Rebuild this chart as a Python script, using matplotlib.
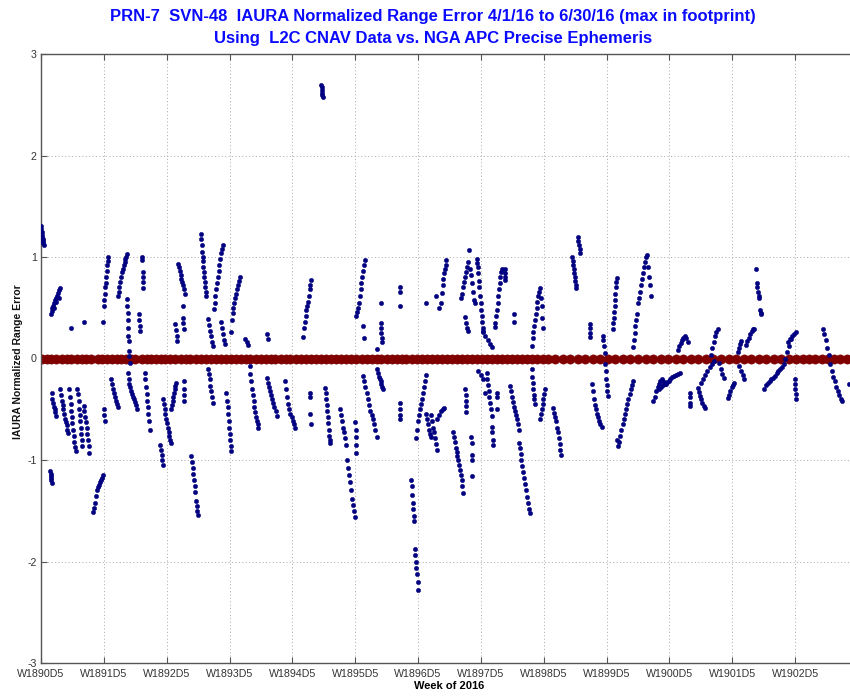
import numpy as np
import matplotlib
matplotlib.use("Agg")
import matplotlib.pyplot as plt

# ---- data -------------------------------------------------------------
# x axis: weeks elapsed since W1890D5
tick_labels = ["W1890D5", "W1891D5", "W1892D5", "W1893D5", "W1894D5",
               "W1895D5", "W1896D5", "W1897D5", "W1898D5", "W1899D5",
               "W1900D5", "W1901D5", "W1902D5"]
y_ticks = [-3, -2, -1, 0, 1, 2, 3]

# each satellite pass: start week, end week, normalized range error samples
pass_start = [0.00, 0.15, 0.16, 0.17, 0.31, 0.45, 0.58, 0.68, 0.48, 0.69,
              0.83, 0.99, 1.00, 1.12, 1.22, 1.37, 1.38, 1.56, 1.61, 1.65,
              1.90, 1.94, 2.07, 2.13, 2.18, 2.26, 2.27, 2.39, 2.54, 2.66,
              2.66, 2.75, 2.87, 2.95, 3.02, 3.24, 3.32, 3.59, 3.60, 3.88,
              4.17, 4.28, 4.46, 4.52, 4.75, 5.00, 5.02, 5.13, 5.12, 5.34,
              5.41, 5.71, 5.71, 5.89, 5.97, 6.13, 6.21, 6.30, 6.13, 6.29,
              6.33, 6.37, 6.56, 6.75, 6.75, 6.69, 6.85, 6.93, 6.96, 7.04,
              7.09, 7.17, 7.22, 7.25, 7.38, 7.46, 7.52, 7.60, 7.81, 7.81,
              7.94, 8.15, 8.45, 8.54, 8.73, 8.76, 8.94, 9.10, 9.16, 9.42,
              9.50, 9.74, 9.84, 10.13, 10.32, 10.45, 10.50, 10.66, 10.79, 10.93,
              11.09, 11.11, 11.22, 11.38, 11.51, 11.88, 12.00, 12.44, 12.86]
pass_end = [0.04, 0.17, 0.30, 0.24, 0.43, 0.55, 0.66, 0.77, 0.48, 0.69,
            0.99, 1.07, 1.02, 1.22, 1.37, 1.41, 1.52, 1.58, 1.63, 1.73,
            1.94, 2.07, 2.15, 2.17, 2.29, 2.27, 2.28, 2.50, 2.63, 2.73,
            2.73, 2.89, 2.92, 3.03, 3.16, 3.30, 3.46, 3.75, 3.61, 4.04,
            4.30, 4.29, 4.48, 4.60, 5.00, 5.02, 5.15, 5.14, 5.34, 5.44,
            5.42, 5.72, 5.72, 6.00, 6.13, 6.20, 6.30, 6.42, 6.13, 6.29,
            6.33, 6.45, 6.72, 6.77, 6.80, 6.90, 6.86, 7.04, 7.06, 7.17,
            7.17, 7.20, 7.33, 7.26, 7.39, 7.60, 7.53, 7.78, 7.99, 7.86,
            8.02, 8.28, 8.52, 8.58, 8.74, 8.92, 9.02, 9.16, 9.42, 9.48,
            9.71, 9.95, 10.16, 10.29, 10.33, 10.56, 10.71, 10.77, 10.87, 11.03,
            11.14, 11.19, 11.35, 11.46, 11.93, 12.01, 12.01, 12.75, 12.86]
pass_values = [
    [1.31, 1.28, 1.25, 1.22, 1.20, 1.18, 1.16, 1.14, 1.12],
    [-1.11, -1.14, -1.16, -1.18, -1.20, -1.23],
    [0.44, 0.47, 0.50, 0.52, 0.55, 0.50, 0.58, 0.60, 0.56, 0.62, 0.65, 0.60, 0.67, 0.69],
    [-0.34, -0.40, -0.44, -0.48, -0.50, -0.53, -0.57],
    [-0.30, -0.36, -0.42, -0.46, -0.50, -0.55, -0.60, -0.63, -0.66, -0.70, -0.73],
    [-0.30, -0.38, -0.45, -0.52, -0.58, -0.64, -0.70, -0.76, -0.82, -0.87, -0.91],
    [-0.30, -0.35, -0.42, -0.50, -0.56, -0.62, -0.68, -0.74, -0.80, -0.86],
    [-0.47, -0.52, -0.58, -0.63, -0.68, -0.74, -0.80, -0.86, -0.93],
    [0.30],
    [0.36],
    [-1.51, -1.47, -1.42, -1.35, -1.30, -1.27, -1.25, -1.22, -1.20, -1.18, -1.15],
    [0.36, 0.52, 0.58, 0.64, 0.70, 0.74, 0.80, 0.86, 0.92, 0.96, 1.00],
    [-0.50, -0.56, -0.62],
    [-0.20, -0.25, -0.30, -0.34, -0.38, -0.42, -0.45, -0.48],
    [0.62, 0.66, 0.70, 0.75, 0.80, 0.85, 0.88, 0.92, 0.95, 0.98, 1.00, 1.03],
    [0.59, 0.52, 0.45, 0.38, 0.30, 0.22, 0.17, 0.07, 0.02, -0.04],
    [-0.14, -0.20, -0.25, -0.28, -0.32, -0.35, -0.38, -0.40, -0.43, -0.46, -0.50],
    [0.44, 0.38, 0.32, 0.27],
    [1.00, 0.97, 0.85, 0.80, 0.75, 0.69],
    [-0.14, -0.20, -0.28, -0.35, -0.42, -0.48, -0.55, -0.62, -0.70],
    [-0.85, -0.90, -0.95, -1.00, -1.05],
    [-0.40, -0.45, -0.50, -0.55, -0.60, -0.64, -0.68, -0.72, -0.76, -0.80, -0.83],
    [-0.50, -0.46, -0.42, -0.38, -0.34, -0.30, -0.27, -0.24],
    [0.34, 0.28, 0.22, 0.17],
    [0.93, 0.90, 0.86, 0.82, 0.78, 0.75, 0.72, 0.68, 0.64],
    [0.52, 0.40, 0.35, 0.29],
    [-0.22, -0.30, -0.36, -0.42],
    [-0.96, -1.02, -1.08, -1.14, -1.20, -1.26, -1.32, -1.40, -1.45, -1.50, -1.54],
    [1.23, 1.18, 1.12, 1.05, 1.00, 0.96, 0.90, 0.85, 0.80, 0.75, 0.70, 0.66, 0.62],
    [0.39, 0.33, 0.27, 0.22, 0.16, 0.12],
    [-0.10, -0.15, -0.20, -0.27, -0.32, -0.38, -0.44],
    [0.49, 0.55, 0.62, 0.68, 0.74, 0.80, 0.86, 0.92, 0.98, 1.04, 1.08, 1.12],
    [0.36, 0.30, 0.24, 0.18, 0.14],
    [-0.34, -0.42, -0.48, -0.55, -0.62, -0.68, -0.74, -0.80, -0.86, -0.91],
    [0.26, 0.38, 0.45, 0.50, 0.55, 0.60, 0.64, 0.68, 0.72, 0.76, 0.80],
    [0.19, 0.16, 0.13],
    [-0.07, -0.15, -0.22, -0.30, -0.36, -0.42, -0.48, -0.53, -0.58, -0.62, -0.65, -0.68],
    [-0.19, -0.24, -0.28, -0.32, -0.36, -0.40, -0.44, -0.48, -0.52, -0.57],
    [0.24, 0.19],
    [-0.22, -0.30, -0.38, -0.45, -0.50, -0.55, -0.58, -0.62, -0.65, -0.68],
    [0.21, 0.30, 0.36, 0.42, 0.48, 0.52, 0.56, 0.62, 0.68, 0.72, 0.77],
    [-0.34, -0.38, -0.55, -0.65],
    [2.69, 2.67, 2.65, 2.62, 2.60, 2.58],
    [-0.29, -0.34, -0.40, -0.46, -0.52, -0.58, -0.64, -0.70, -0.76, -0.80, -0.83],
    [-0.50, -0.56, -0.62, -0.68, -0.72, -0.78, -0.85, -1.00, -1.08, -1.15, -1.22,
     -1.30, -1.38, -1.44, -1.50, -1.56],
    [-0.63, -0.70, -0.77, -0.85, -0.93],
    [0.42, 0.46, 0.50, 0.55, 0.62, 0.68, 0.74, 0.80, 0.86, 0.92, 0.97],
    [0.32, 0.20],
    [-0.17, -0.22, -0.28, -0.34, -0.40, -0.46, -0.52, -0.56, -0.60, -0.65, -0.70, -0.77],
    [0.09, -0.10, -0.14, -0.18, -0.20, -0.22, -0.25, -0.28, -0.30],
    [0.55, 0.35, 0.30, 0.25, 0.20, 0.16],
    [0.70, 0.66, 0.52],
    [-0.44, -0.50, -0.56, -0.60],
    [-1.20, -1.26, -1.34, -1.42, -1.48, -1.55, -1.60, -1.88, -1.94, -2.00, -2.06,
     -2.12, -2.20, -2.28],
    [-0.78, -0.70, -0.62, -0.56, -0.50, -0.45, -0.40, -0.34, -0.28, -0.22, -0.16],
    [-0.55, -0.60, -0.65, -0.70, -0.74, -0.77],
    [-0.56, -0.62, -0.68, -0.72, -0.78, -0.84, -0.90],
    [-0.60, -0.56, -0.52, -0.50, -0.49],
    [0.55],
    [0.62],
    [0.50],
    [0.55, 0.65, 0.72, 0.78, 0.84, 0.88, 0.92, 0.97],
    [-0.72, -0.77, -0.82, -0.88, -0.92, -0.96, -1.00, -1.05, -1.10, -1.15, -1.20,
     -1.26, -1.33],
    [-0.30, -0.36, -0.42, -0.47, -0.53],
    [0.41, 0.35, 0.30, 0.27],
    [0.60, 0.64, 0.70, 0.75, 0.80, 0.85, 0.90, 0.95, 1.07, 0.88, 0.82, 0.74, 0.66,
     0.58, 0.55],
    [-0.77, -0.83, -0.95, -1.00, -1.16],
    [0.98, 0.94, 0.90, 0.84, 0.76, 0.70, 0.62, 0.55, 0.48, 0.42, 0.36, 0.30, 0.26],
    [-0.12, -0.16, -0.20, -0.34],
    [0.27, 0.22, 0.18, 0.14, 0.11],
    [-0.14, -0.20, -0.26, -0.32, -0.38, -0.44, -0.50, -0.57],
    [-0.67, -0.72, -0.80, -0.85],
    [0.31, 0.35, 0.42, 0.48, 0.55, 0.62, 0.68, 0.74, 0.80, 0.85, 0.88],
    [-0.34, -0.38, -0.50],
    [0.77, 0.80, 0.84, 0.88],
    [-0.27, -0.32, -0.38, -0.43, -0.48, -0.52, -0.56, -0.60, -0.65, -0.70],
    [0.44, 0.36],
    [-0.83, -0.88, -0.94, -1.00, -1.06, -1.12, -1.18, -1.24, -1.30, -1.36, -1.42,
     -1.48, -1.52],
    [0.12, 0.20, 0.26, 0.32, 0.38, 0.44, 0.50, 0.56, 0.62, 0.66, 0.69, 0.60, 0.52,
     0.40, 0.30],
    [-0.10, -0.18, -0.24, -0.30, -0.36, -0.40, -0.45],
    [-0.60, -0.55, -0.50, -0.45, -0.40, -0.35, -0.30],
    [-0.49, -0.54, -0.58, -0.62, -0.68, -0.72, -0.78, -0.84, -0.90, -0.95],
    [1.00, 0.96, 0.92, 0.88, 0.84, 0.80, 0.76, 0.72, 0.69],
    [1.20, 1.16, 1.12, 1.08, 1.04],
    [0.34, 0.30, 0.25, 0.21],
    [-0.25, -0.32, -0.40, -0.46, -0.50, -0.55, -0.58, -0.62, -0.65, -0.67],
    [0.22, 0.18, 0.12, 0.05, -0.05, -0.12, -0.20, -0.26, -0.32, -0.37],
    [0.29, 0.35, 0.40, 0.46, 0.52, 0.58, 0.64, 0.70, 0.75, 0.79],
    [-0.80, -0.86, -0.82, -0.76, -0.70, -0.65, -0.60, -0.55, -0.50, -0.45, -0.40,
     -0.35, -0.30, -0.26, -0.22],
    [0.11, 0.18, 0.25, 0.32, 0.38, 0.44],
    [0.55, 0.60, 0.66, 0.72, 0.78, 0.84, 0.90, 0.95, 1.00, 1.02, 0.90, 0.80, 0.72, 0.62],
    [-0.42, -0.38, -0.32, -0.28, -0.25, -0.22, -0.20, -0.22, -0.24, -0.25],
    [-0.30, -0.28, -0.26, -0.25, -0.23, -0.22, -0.20, -0.18, -0.17, -0.16, -0.15, -0.14],
    [0.08, 0.12, 0.15, 0.18, 0.20, 0.22, 0.20, 0.16],
    [-0.34, -0.38, -0.44, -0.47],
    [-0.29, -0.33, -0.37, -0.40, -0.44, -0.47, -0.49],
    [-0.24, -0.20, -0.16, -0.12, -0.08, -0.05, -0.02],
    [0.03, 0.10, 0.16, 0.22, 0.26, 0.29],
    [-0.04, -0.10, -0.15, -0.19],
    [-0.39, -0.36, -0.32, -0.28, -0.26, -0.24],
    [0.06, 0.10, 0.14, 0.17],
    [-0.07, -0.12, -0.16, -0.20],
    [0.13, 0.17, 0.20, 0.24, 0.27, 0.29, 0.29],
    [0.88, 0.74, 0.70, 0.66, 0.62, 0.60, 0.48, 0.45, 0.44],
    [-0.30, -0.26, -0.24, -0.22, -0.20, -0.19, -0.17, -0.14, -0.12, -0.10, -0.08,
     -0.05, 0.00, 0.06, 0.12, 0.19],
    [0.16, 0.19, 0.22, 0.24, 0.26],
    [-0.20, -0.25, -0.30, -0.35, -0.40],
    [0.29, 0.24, 0.18, 0.10, 0.03, -0.05, -0.12, -0.18, -0.22, -0.28, -0.32, -0.36,
     -0.40, -0.42],
    [-0.25],
]

# epochs of the zero reference markers
zero_weeks = [0.02, 0.09, 0.16, 0.24, 0.33, 0.41, 0.48, 0.57, 0.65, 0.72, 0.80,
              0.90, 0.97, 1.05, 1.13, 1.21, 1.28, 1.36, 1.43, 1.50, 1.60, 1.68,
              1.75, 1.83, 1.91, 1.98, 2.06, 2.13, 2.22, 2.30, 2.37, 2.46, 2.55,
              2.62, 2.70, 2.78, 2.86, 2.95, 3.02, 3.10, 3.18, 3.26, 3.33, 3.42,
              3.50, 3.58, 3.66, 3.73, 3.82, 3.90, 3.97, 4.06, 4.14, 4.21, 4.30,
              4.38, 4.46, 4.53, 4.61, 4.70, 4.78, 4.86, 4.93, 5.01, 5.10, 5.18,
              5.26, 5.34, 5.41, 5.50, 5.58, 5.66, 5.74, 5.81, 5.90, 5.98, 6.06,
              6.14, 6.22, 6.30, 6.38, 6.46, 6.54, 6.62, 6.70, 6.78, 6.86, 6.94,
              7.02, 7.10, 7.18, 7.26, 7.34, 7.42, 7.50, 7.58, 7.66, 7.74, 7.82,
              7.90, 7.98, 8.06, 8.18, 8.30, 8.42, 8.54, 8.66, 8.78, 8.90, 9.02,
              9.14, 9.26, 9.38, 9.50, 9.62, 9.74, 9.86, 9.98, 10.10, 10.22,
              10.34, 10.46, 10.58, 10.70, 10.82, 10.94, 11.06, 11.18, 11.30,
              11.42, 11.54, 11.66, 11.78, 11.90, 12.02, 12.12, 12.22, 12.32,
              12.42, 12.52, 12.62, 12.72, 12.82, 12.92]
zero_values = [0.0] * len(zero_weeks)

# ---- figure -----------------------------------------------------------
W, H = 850, 696
fig = plt.figure(figsize=(W / 100, H / 100), dpi=100)
fig.patch.set_facecolor("white")

left, right, top, bottom = 41, 858, 54, 663
ax = fig.add_axes([left / W, 1 - bottom / H, (right - left) / W, (bottom - top) / H])

blue_x, blue_y = [], []
for t0, t1, vals in zip(pass_start, pass_end, pass_values):
    blue_x.extend(np.linspace(t0, t1, len(vals)))
    blue_y.extend(vals)

ax.scatter(zero_weeks, zero_values, s=44, color="#800000", linewidths=0.4,
           edgecolors="#800000", zorder=2)
ax.scatter(blue_x, blue_y, s=10, color="#000080", linewidths=0.3,
           edgecolors="#000080", zorder=3)

ax.set_xlim(0, 13)
ax.set_ylim(-3, 3)
ax.set_xticks(range(len(tick_labels)))
ax.set_xticklabels(tick_labels)
ax.set_yticks(y_ticks)
ax.set_yticklabels([str(v) for v in y_ticks])

for lbl in ax.get_xticklabels() + ax.get_yticklabels():
    lbl.set_fontfamily(["Liberation Sans", "DejaVu Sans"])
    lbl.set_fontsize(7.7)
    lbl.set_color("#333333")

ax.tick_params(axis="both", direction="in", length=4, width=0.8,
               color="#555555", top=True, right=False)
ax.tick_params(axis="x", pad=4)
ax.tick_params(axis="y", pad=3)

ax.grid(True, linestyle=(0, (1, 2.5)), color="#a8a8a8", linewidth=0.7)
ax.set_axisbelow(True)
for side in ("left", "bottom", "top"):
    ax.spines[side].set_color("#555555")
    ax.spines[side].set_linewidth(1.0)
ax.spines["right"].set_visible(False)

ax.set_xlabel("Week of 2016", fontsize=8, fontweight="bold",
              family=["Liberation Sans", "DejaVu Sans"], labelpad=2)
fig.text(18 / W, 1 - 362 / H, "IAURA Normalized Range Error", rotation=90,
         ha="center", va="center", fontsize=7.5, fontweight="bold",
         family=["Liberation Sans", "DejaVu Sans"], color="#111111")

title_font = ["Liberation Sans", "DejaVu Sans"]
fig.text(433 / W, 1 - 17 / H,
         "PRN-7  SVN-48  IAURA Normalized Range Error 4/1/16 to 6/30/16 (max in footprint)",
         ha="center", va="center", fontsize=12, fontweight="bold",
         family=title_font, color="#0a0aff")
fig.text(433 / W, 1 - 38 / H,
         "Using  L2C CNAV Data vs. NGA APC Precise Ephemeris",
         ha="center", va="center", fontsize=12, fontweight="bold",
         family=title_font, color="#0a0aff")

fig.savefig("out.png", dpi=100)
